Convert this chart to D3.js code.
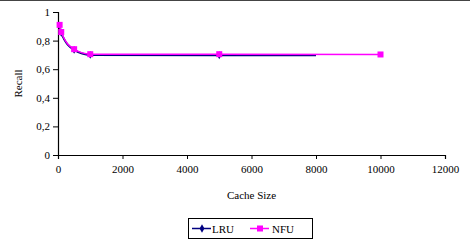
<!DOCTYPE html>
<html>
<head>
<meta charset="utf-8">
<script src="https://cdn.jsdelivr.net/npm/d3@7"></script>
<style>
  body { margin: 0; background: #fff; }
  svg { display: block; }
  svg text { font-family: "Liberation Serif", "Times New Roman", Times, serif; }
</style>
</head>
<body>
<div id="chart"></div>
<script>
// data
const lruSize = [50, 100, 500, 1000, 5000, 8000];
const lruRecall = [0.905, 0.855, 0.735, 0.70, 0.698, 0.698];
const nfuSize = [50, 100, 500, 1000, 5000, 10000];
const nfuRecall = [0.91, 0.86, 0.74, 0.705, 0.705, 0.703];
const xTicks = [0, 2000, 4000, 6000, 8000, 10000, 12000];
const yTicks = [0, 0.2, 0.4, 0.6, 0.8, 1];
const seriesNames = ['LRU', 'NFU'];
const seriesColors = ['#000080', '#ff00ff'];

const W = 470, H = 244;
const margin = {top: 12, right: 25, bottom: 89, left: 58};

const svg = d3.select('#chart').append('svg')
    .attr('width', W)
    .attr('height', H);

// top border line
svg.append('line')
    .attr('x1', 0).attr('x2', W)
    .attr('y1', 0.5).attr('y2', 0.5)
    .attr('stroke', '#444');

const x = d3.scaleLinear().domain([0, 12000]).range([margin.left, W - margin.right]);
const y = d3.scaleLinear().domain([0, 1]).range([H - margin.bottom, margin.top]);

const fmt = d => d === 0 || d === 1 ? String(d) : d3.format('.1f')(d).replace('.', ',');

const xAxis = svg.append('g')
    .attr('transform', `translate(0,${y(0)})`)
    .call(d3.axisBottom(x).tickValues(xTicks).tickSize(4).tickPadding(6).tickFormat(d3.format('d')));
const yAxis = svg.append('g')
    .attr('transform', `translate(${x(0)},0)`)
    .call(d3.axisLeft(y).tickValues(yTicks).tickSize(5).tickPadding(3).tickFormat(fmt));

[xAxis, yAxis].forEach(a => {
  a.attr('font-family', null);
  a.select('.domain').attr('stroke', '#000').attr('stroke-width', 1.2);
  a.selectAll('.tick line').attr('stroke', '#000');
  a.selectAll('text').attr('font-size', 11).attr('fill', '#000');
});

svg.append('text')
    .attr('x', (x(0) + x(12000)) / 2)
    .attr('y', 199)
    .attr('text-anchor', 'middle')
    .attr('font-size', 11)
    .text('Cache Size');

svg.append('text')
    .attr('transform', `translate(22,${(y(0) + y(1)) / 2}) rotate(-90)`)
    .attr('text-anchor', 'middle')
    .attr('font-size', 11)
    .text('Recall');

const line = d3.line()
    .x(d => x(d[0]))
    .y(d => y(d[1]))
    .curve(d3.curveMonotoneX);

const lru = lruSize.map((s, i) => [s, lruRecall[i]]);
const nfu = nfuSize.map((s, i) => [s, nfuRecall[i]]);

svg.append('path')
    .datum(lru)
    .attr('d', line)
    .attr('fill', 'none')
    .attr('stroke', seriesColors[0])
    .attr('stroke-width', 2);

// the last LRU point shows no marker in the original
svg.selectAll('.lru-pt')
    .data(lru.slice(0, -1))
    .enter().append('path')
    .attr('class', 'lru-pt')
    .attr('transform', d => `translate(${x(d[0])},${y(d[1])})`)
    .attr('d', d3.symbol(d3.symbolDiamond, 18))
    .attr('fill', seriesColors[0]);

svg.append('path')
    .datum(nfu)
    .attr('d', line)
    .attr('fill', 'none')
    .attr('stroke', seriesColors[1])
    .attr('stroke-width', 1.5);

svg.selectAll('.nfu-pt')
    .data(nfu)
    .enter().append('rect')
    .attr('class', 'nfu-pt')
    .attr('x', d => x(d[0]) - 3)
    .attr('y', d => y(d[1]) - 3)
    .attr('width', 6)
    .attr('height', 6)
    .attr('fill', seriesColors[1]);

// legend
const legend = svg.append('g').attr('transform', 'translate(188,218)');
legend.append('rect')
    .attr('x', 0.5).attr('y', 0.5)
    .attr('width', 124).attr('height', 20)
    .attr('fill', '#fff')
    .attr('stroke', '#000');

const entries = [{lx: 4, tx: 24}, {lx: 62, tx: 84}];
entries.forEach((e, i) => {
  legend.append('line')
      .attr('x1', e.lx).attr('x2', e.lx + 19)
      .attr('y1', 10.5).attr('y2', 10.5)
      .attr('stroke', seriesColors[i])
      .attr('stroke-width', 1.5);
  if (i === 0) {
    legend.append('path')
        .attr('transform', `translate(${e.lx + 10},10.5)`)
        .attr('d', d3.symbol(d3.symbolDiamond, 20))
        .attr('fill', seriesColors[i]);
  } else {
    legend.append('rect')
        .attr('x', e.lx + 7).attr('y', 7.5)
        .attr('width', 6).attr('height', 6)
        .attr('fill', seriesColors[i]);
  }
  legend.append('text')
      .attr('x', e.tx).attr('y', 14.5)
      .attr('font-size', 11)
      .text(seriesNames[i]);
});
</script>
</body>
</html>
